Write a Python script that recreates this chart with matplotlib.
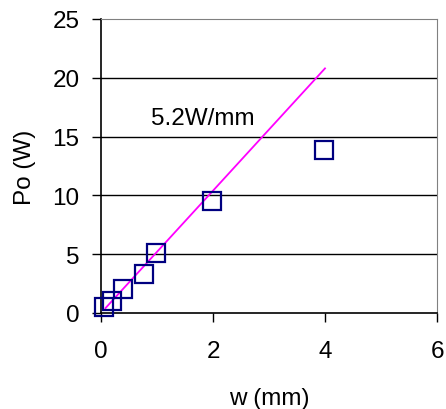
import numpy as np
import matplotlib.pyplot as plt

# measured output power vs. width
w_mm = [0.06, 0.19, 0.39, 0.77, 0.98, 1.98, 3.98]
po_w = [0.55, 1.05, 2.0, 3.35, 5.13, 9.5, 13.9]

# linear fit shown on the chart
slope = 5.2
fit_w = np.array([0.08, 4.0])

plt.rcParams['font.family'] = ['Liberation Sans', 'DejaVu Sans']
plt.rcParams['font.size'] = 17.5

fig = plt.figure(figsize=(4.46, 4.10), dpi=100)
ax = fig.add_axes([101 / 446, 1 - 314 / 410, 336 / 446, 294 / 410])

ax.plot(fit_w, slope * fit_w, color="#ff00ff", lw=1.3, zorder=3)
ax.plot(w_mm, po_w, "s", markersize=12.5, markerfacecolor="none",
        markeredgecolor="#000080", markeredgewidth=1.6, zorder=4,
        clip_on=False)
ax.text(0.89, 16.6, "5.2W/mm", va="center", ha="left")

ax.set_xlim(0, 6)
ax.set_ylim(0, 25)
ax.set_xticks([0, 2, 4, 6])
ax.set_yticks([0, 5, 10, 15, 20, 25])
for y in [5, 10, 15, 20]:
    ax.axhline(y, color="black", lw=1.0, zorder=1)

ax.spines["top"].set_color("#808080")
ax.spines["right"].set_color("#808080")
for s in ["left", "bottom"]:
    ax.spines[s].set_color("black")
    ax.spines[s].set_linewidth(1.2)
ax.tick_params(direction="out", length=6.5, width=1.0)
ax.tick_params(axis="y", pad=9)
ax.tick_params(axis="x", pad=13)

ax.set_xlabel("w (mm)", labelpad=18)
ax.set_ylabel("Po (W)", labelpad=12)

fig.savefig("out.png", dpi=100)
